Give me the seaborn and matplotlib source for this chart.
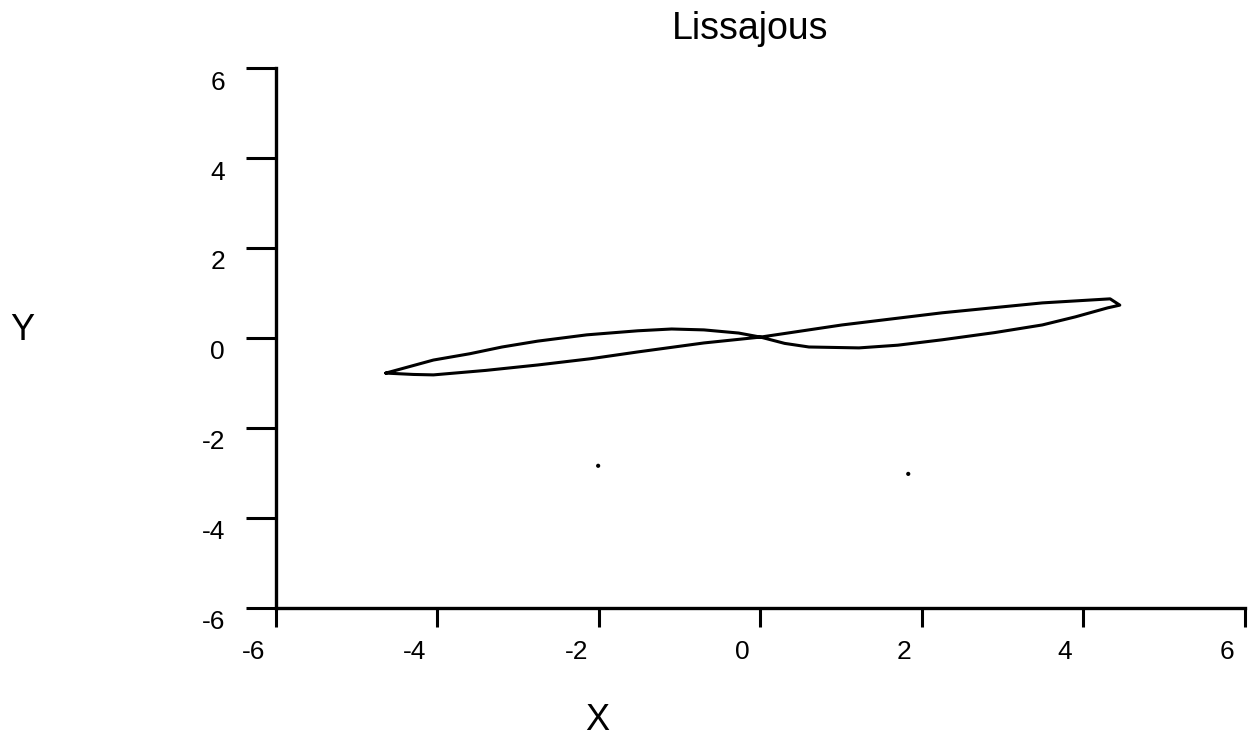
import numpy as np
import pandas as pd
import matplotlib
matplotlib.use('Agg')
import matplotlib.pyplot as plt
import matplotlib.transforms as mtransforms
import seaborn as sns

# pontos (laço fechado, começando na ponta esquerda)
curve_x = [-4.64, -4.30, -4.05, -3.40, -2.76, -2.10, -1.52, -0.70, 0.00, 1.01,
           2.25, 3.49, 4.33, 4.45, 4.30, 3.90, 3.49, 2.90, 2.25, 1.70,
           1.22, 0.60, 0.30, 0.00, -0.27, -0.70, -1.10, -1.52, -2.15, -2.76,
           -3.20, -3.60, -4.05, -4.64]
curve_y = [-0.78, -0.81, -0.82, -0.72, -0.60, -0.46, -0.31, -0.11, 0.02, 0.29,
           0.56, 0.78, 0.87, 0.73, 0.67, 0.47, 0.29, 0.12, -0.04, -0.16,
           -0.22, -0.20, -0.12, 0.02, 0.11, 0.18, 0.20, 0.16, 0.07, -0.07,
           -0.20, -0.35, -0.49, -0.78]

# pontos soltos
dots_x = [-2.01, 1.83]
dots_y = [-2.84, -3.02]

ticks = [-6, -4, -2, 0, 2, 4, 6]
tick_labels = ['-6', '-4', '-2', '0', '2', '4', '6']

sns.set_style('ticks')
plt.rcParams['font.family'] = ['Liberation Sans', 'DejaVu Sans']
plt.rcParams.update({'text.color': 'black', 'axes.edgecolor': 'black',
                     'xtick.color': 'black', 'ytick.color': 'black',
                     'axes.labelcolor': 'black'})

df = pd.DataFrame({'x': curve_x, 'y': curve_y})
dots = pd.DataFrame({'x': dots_x, 'y': dots_y})

fig = plt.figure(figsize=(12.52, 7.40), dpi=100)
ax = fig.add_axes([0.2204, 0.1784, 0.7740, 0.7297])

sns.lineplot(data=df, x='x', y='y', sort=False, estimator=None,
             color='black', linewidth=2.2, ax=ax)
sns.scatterplot(data=dots, x='x', y='y', color='black', s=9,
                edgecolor='none', ax=ax)

ax.set_xlim(-6, 6)
ax.set_ylim(-6, 6)
ax.set_xticks(ticks)
ax.set_yticks(ticks)
ax.set_xticklabels(tick_labels)
ax.set_yticklabels(tick_labels)
ax.set_xlabel('')
ax.set_ylabel('')

for side in ['top', 'right']:
    ax.spines[side].set_visible(False)
for side in ['left', 'bottom']:
    ax.spines[side].set_linewidth(2.4)

ax.tick_params(axis='x', direction='out', length=14, width=2.2, pad=9,
               labelsize=19)
ax.tick_params(axis='y', direction='out', length=21.6, width=2.2, pad=15,
               labelsize=19)

# deslocar rótulos como no original
off_x = mtransforms.ScaledTranslation(-11 / 100, 0, fig.dpi_scale_trans)
for lab in ax.get_xticklabels():
    lab.set_horizontalalignment('right')
    lab.set_transform(lab.get_transform() + off_x)
off_y = mtransforms.ScaledTranslation(0, -12 / 100, fig.dpi_scale_trans)
for lab in ax.get_yticklabels():
    lab.set_transform(lab.get_transform() + off_y)

fig.text(750 / 1252, 1 - 29 / 740, 'Lissajous', ha='center', va='center',
         fontsize=27)
fig.text(597 / 1252, 1 - 721 / 740, 'X', ha='center', va='center',
         fontsize=26)
fig.text(22 / 1252, 1 - 331 / 740, 'Y', ha='center', va='center',
         fontsize=26)

fig.savefig('out.png', dpi=100)
